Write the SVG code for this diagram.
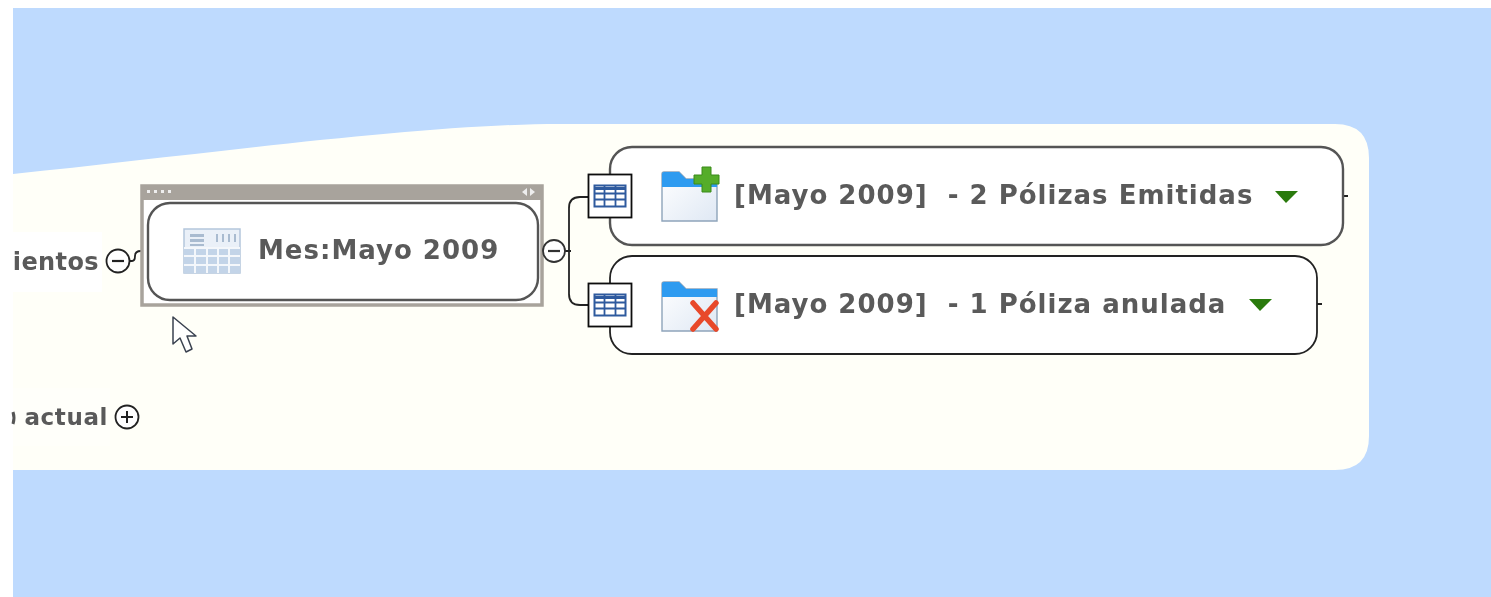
<svg xmlns="http://www.w3.org/2000/svg" width="1491" height="597" viewBox="0 0 1491 597">
<style>
svg>g,#cursor{filter:url(#soft)}
.t{font-family:"DejaVu Sans",Verdana,sans-serif;font-weight:700;fill:#5a5a5a;font-size:26px;letter-spacing:1px;white-space:pre}
.l{font-size:24px;letter-spacing:.4px}
.m{font-size:23px;letter-spacing:.6px}
.c{fill:none;stroke:#222;stroke-width:1.8}
.b{fill:#fff;stroke:#222;stroke-width:1.8}
.b2{fill:#fff;stroke:#555;stroke-width:2.400}
.tg{fill:#fff;stroke:#111;stroke-width:1.800}
.tog{fill:#fff;stroke:#222;stroke-width:1.800}
.tri{fill:#2a7a0a}
</style>
<defs>
<filter id="soft" x="-5%" y="-5%" width="110%" height="110%"><feGaussianBlur stdDeviation="0.45"/></filter>
<linearGradient id="fold" x1="0" y1="0" x2="1" y2="1"><stop offset="0" stop-color="#fff"/><stop offset="1" stop-color="#dfe8f4"/></linearGradient>
<g id="tab">
<rect x="-15.500" y="-10.500" width="31" height="21" fill="#fff"/>
<rect x="-21.500" y="-21.500" width="43" height="43" class="tg"/>
<rect x="-15.500" y="-10.500" width="31" height="21" fill="#fff" stroke="#2f5a9e" stroke-width="2"/>
<path d="M-16-7.500H16" stroke="#2f5a9e" stroke-width="3"/>
<path d="M-16-2.500H16M-16 3.500H16M-5.500-11V11M5.500-11V11" stroke="#2f5a9e" stroke-width="1.800"/>
</g>
<g id="folder">
<path d="M0 2Q0 0 2 0H17L24 7H55V49H0Z" fill="url(#fold)" stroke="#8ea4ba" stroke-width="1.400"/>
<path d="M0 2Q0 0 2 0H17L24 7H55V15H0Z" fill="#2f9bf0"/>
</g>
</defs>
<rect width="1491" height="597" fill="#fff"/>
<rect x="13" y="8" width="1478" height="589" fill="#bedafe"/>
<path d="M13 174C200 155 420 124 560 124H1335Q1369 124 1369 158V436Q1369 470 1335 470H13Z" fill="#fffff8"/>
<g id="connectors">
<path class="c" d="M129 261H132Q135 261 135 256Q135 251 141 251H148"/>
<path class="c" d="M538 251H543M565 251H571M569 251V208Q569 197 580 197H590M569 251V294Q569 305 580 305H590"/>
<path class="c" d="M1343 196H1348M1317 304H1322"/>
</g>
<g id="node-movimientos">
<rect x="13" y="232" width="89" height="60" fill="#fff"/>
<text class="t l" x="99" y="270" text-anchor="end">ientos</text>
<circle class="tog" cx="118" cy="261" r="11.500"/><path d="M112 261H124" stroke="#222" stroke-width="2.200"/>
</g>
<g id="node-actual">
<rect x="13" y="388" width="97" height="58" fill="#fff" opacity=".3"/>
<text class="t m" x="108" y="425" text-anchor="end">actual</text>
<path d="M13 412Q15 418 13 424" fill="none" stroke="#555" stroke-width="3"/>
<circle class="tog" cx="127" cy="417" r="11.500"/><path d="M121 417H133M127 411V423" stroke="#222" stroke-width="2"/>
</g>
<g id="node-mes">
<rect x="142" y="186" width="400" height="119" fill="#fff" stroke="#a8a39c" stroke-width="3.500"/>
<rect x="142" y="186" width="400" height="14" fill="#a8a39c"/>
<path d="M147 190h3v3h-3zM154 190h3v3h-3zM161 190h3v3h-3zM168 190h3v3h-3z" fill="#eee"/>
<path d="M527 188l-5 4 5 4zM530 188l5 4-5 4z" fill="#eee"/>
<rect x="148" y="203" width="390" height="97" rx="22" class="b2"/>
<rect x="184" y="229" width="56" height="44" fill="#eaf0f8" stroke="#b4c6dc" stroke-width="1.500"/>
<rect x="184" y="248" width="56" height="25" fill="#c3d4e8"/>
<path d="M184 248H240M184 256H240M184 265H240M195 248V273M207 248V273M218 248V273M229 248V273" stroke="#f4f7fb" stroke-width="2"/>
<path d="M190 234h14v3h-14zM190 239h14v3h-14zM190 244h14v2h-14zM216 234h2v8h-2zM222 234h2v8h-2zM228 234h2v8h-2zM234 234h2v8h-2z" fill="#a9bbd0"/>
<text class="t" x="258" y="259">Mes:Mayo 2009</text>
</g>
<g id="toggle-mes"><circle cx="554" cy="251" r="11" fill="#fff" stroke="#333" stroke-width="1.800"/><path d="M548 251H560" stroke="#333" stroke-width="2.200"/></g>
<g id="node-emitidas">
<rect x="610" y="147" width="733" height="98" rx="22" class="b2"/>
<use href="#tab" x="610" y="196"/>
<use href="#folder" x="662" y="172"/>
<path d="M702 167h9v8h8v9h-8v8h-9v-8h-8v-9h8z" fill="#55ad2a" stroke="#3b8a1a"/>
<text class="t" x="734" y="204">[Mayo 2009]  - 2 Pólizas Emitidas</text>
<path class="tri" d="M1275 191H1298L1286 203Z"/>
</g>
<g id="node-anulada">
<rect x="610" y="256" width="707" height="98" rx="22" class="b"/>
<use href="#tab" x="610" y="305"/>
<use href="#folder" x="662" y="282"/>
<path d="M693 303L716 329M716 303L693 329" stroke="#e8482a" stroke-width="5.500" stroke-linecap="round"/>
<text class="t" x="734" y="313">[Mayo 2009]  - 1 Póliza anulada</text>
<path class="tri" d="M1249 299H1272L1260 311Z"/>
</g>
<path id="cursor" d="M173 317V344L180 338L186 352L192 349L187 336H196Z" fill="#fff" stroke="#3a4250" stroke-width="1.500" stroke-linejoin="round"/>
</svg>
